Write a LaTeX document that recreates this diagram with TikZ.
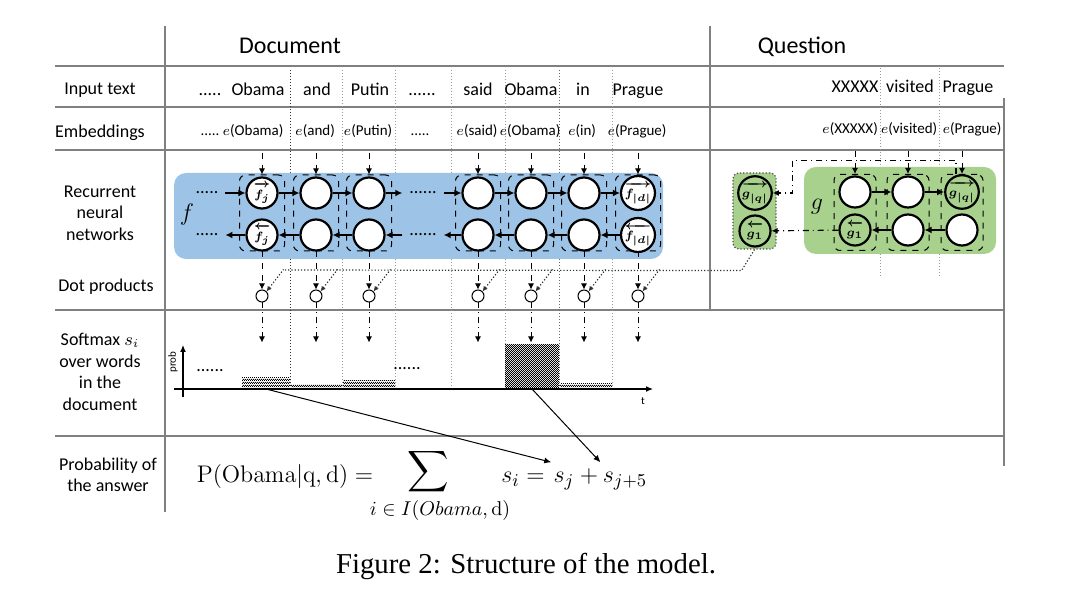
\documentclass[tikz,border=0pt]{standalone}
\usepackage{amsmath}
\usepackage[no-math]{fontspec}
\setmainfont{Carlito}
\newfontfamily\capfont{Liberation Serif}
\usepackage{tikz}
\usetikzlibrary{arrows.meta}
\usetikzlibrary{calc}
\usetikzlibrary{patterns.meta}

\definecolor{fblue}{HTML}{9DC3E6}
\definecolor{ggreen}{HTML}{A9D18E}

\tikzdeclarepattern{
  name=finecheck,
  bounding box={(0pt,0pt) and (1.2pt,1.2pt)},
  tile size={(1.2pt,1.2pt)},
  code={\fill (0pt,0pt) rectangle (0.6pt,0.6pt); \fill (0.6pt,0.6pt) rectangle (1.2pt,1.2pt);}
}

\newcommand{\fwd}[1]{$\overrightarrow{\rule{0pt}{0.8em}#1}$}
\newcommand{\bwd}[1]{$\overleftarrow{\rule{0pt}{0.8em}#1}$}

\begin{document}
\begin{tikzpicture}[x=0.5pt, y=-0.5pt, font=\fontsize{9}{10.8}\selectfont,
        grid_style/.style={draw=black!50, line width=0.75pt},
        sep_style/.style={draw=black!40, densely dotted, line width=0.5pt},
        head_style/.style={font=\fontsize{12}{14}\selectfont},
        row_label/.style={align=center, font=\fontsize{9}{10.8}\selectfont},
        word_style/.style={text height=1.5ex, text depth=0.25ex},
        emb_style/.style={font=\fontsize{7.5}{9}\selectfont, text height=1.6ex, text depth=0.4ex},
        cell_style/.style={circle, draw=black, line width=1.1pt, fill=white, minimum size=15.5pt, inner sep=0pt, font=\fontsize{6.5}{7}\selectfont\boldmath},
        open_cell_style/.style={cell_style, fill=none},
        pair_style/.style={draw=black, dashed, line width=0.5pt, rounded corners=3pt, minimum width=22.5pt, minimum height=38pt, inner sep=0pt},
        dot_style/.style={circle, draw=black, line width=0.5pt, fill=white, minimum size=6pt, inner sep=0pt,
          path picture={\fill (path picture bounding box.center) circle (0.45pt);}},
        edge_style/.style={draw=black, line width=1.1pt, -{Latex[length=3.5pt,width=3.5pt]}},
        emb_edge_style/.style={draw=black, dashed, line width=0.5pt, shorten <=3pt, -{Latex[length=3pt,width=3pt]}},
        prob_edge_style/.style={draw=black, dash dot, line width=0.5pt, -{Latex[length=3pt,width=3pt]}},
        bcast_style/.style={draw=black!80, densely dotted, line width=0.6pt},
        bcast_arrow_style/.style={bcast_style, {Latex[length=2.5pt,width=2.5pt]}-},
        gdd_style/.style={draw=black, dash dot, line width=0.6pt, -{Latex[length=3pt,width=3pt]}},
        axis_style/.style={draw=black, line width=0.6pt, -{Latex[length=3.5pt,width=3pt]}},
        bar_style/.style={fill=white, pattern=finecheck, pattern color=black, inner sep=0pt, outer sep=0pt, anchor=south west},
        tiny_label/.style={font=\fontsize{5.5}{6}\selectfont, inner sep=1pt},
        formula_style/.style={font=\fontsize{12.5}{15}\selectfont, anchor=base, inner sep=1pt},
        sum_edge_style/.style={draw=black, line width=0.5pt, -{Latex[length=3.5pt,width=3pt]}}]

        \useasboundingbox (0,0) rectangle (1077,598);

        % table lines
        \draw [grid_style] (55,66) -- (1004,66);
        \draw [grid_style] (55,107) -- (1004,107);
        \draw [grid_style] (55,150) -- (1004,150);
        \draw [grid_style] (55,310) -- (1004,310);
        \draw [grid_style] (55,436) -- (1004,436);
        \draw [grid_style] (165,26) -- (165,512);
        \draw [grid_style] (710,26) -- (710,310);
        \draw [grid_style] (1004,98) -- (1004,466);

        % word separators
        \draw [sep_style, draw=black!80] (290,70) -- (290,389);
        \draw [sep_style] (342,70) -- (342,389);
        \draw [sep_style] (395,70) -- (395,389);
        \draw [sep_style] (451,70) -- (451,389);
        \draw [sep_style] (505,70) -- (505,389);
        \draw [sep_style, draw=black!60] (559,70) -- (559,389);
        \draw [sep_style] (612,70) -- (612,389);
        \draw [sep_style] (880,68) -- (880,277);
        \draw [sep_style] (939,68) -- (939,277);

        % headers and row labels
        \node [head_style] (doc_head) at (290,46) {Document};
        \node [head_style] (q_head) at (802,47) {Question};

        \node [row_label] (lab_input) at (100,90) {Input text};
        \node [row_label] (lab_emb) at (100,133) {Embeddings};
        \node [row_label] (lab_rnn) at (100,213) {Recurrent\\neural\\networks};
        \node [row_label] (lab_dot) at (106,287) {Dot products};
        \node [row_label] (lab_soft) at (100,372) {Softmax $s_i$\\over words\\in the\\document};
        \node [row_label] (lab_prob) at (108,475) {Probability of\\the answer};

        % input words
        \node [word_style] (w0) at (210,90) {.....};
        \node [word_style] (w1) at (258,90) {Obama};
        \node [word_style] (w2) at (317,90) {and};
        \node [word_style] (w3) at (370,90) {Putin};
        \node [word_style] (wd) at (422,90) {......};
        \node [word_style] (w4) at (478,90) {said};
        \node [word_style] (w5) at (531,90) {Obama};
        \node [word_style] (w6) at (583,90) {in};
        \node [word_style] (w7) at (638,90) {Prague};
        \node [word_style] (qw1) at (855,87) {XXXXX};
        \node [word_style] (qw2) at (910,87) {visited};
        \node [word_style] (qw3) at (968,87) {Prague};

        % embeddings
        \node [emb_style] (e0) at (210,130) {.....};
        \node [emb_style] (e1) at (253,130) {$e$(Obama)};
        \node [emb_style] (e2) at (315,130) {$e$(and)};
        \node [emb_style] (e3) at (368,130) {$e$(Putin)};
        \node [emb_style] (ed) at (420,130) {.....};
        \node [emb_style] (e4) at (477,130) {$e$(said)};
        \node [emb_style] (e5) at (530,130) {$e$(Obama)};
        \node [emb_style] (e6) at (582,130) {$e$(in)};
        \node [emb_style] (e7) at (637,130) {$e$(Prague)};
        \node [emb_style] (qe1) at (850,128) {$e$(XXXXX)};
        \node [emb_style] (qe2) at (909,128) {$e$(visited)};
        \node [emb_style] (qe3) at (972,128) {$e$(Prague)};

        % network backgrounds
        \fill [fblue, rounded corners=6pt] (174,173) rectangle (663,259);
        \fill [ggreen, rounded corners=6pt] (804,167) rectangle (996,254);
        \node [fill=ggreen, draw=black!70, densely dotted, line width=0.6pt, rounded corners=3pt,
               minimum width=21.5pt, minimum height=38pt, inner sep=0pt] (gbox) at (754.5,211) {};
        \node [font=\fontsize{13}{15}\selectfont] (f_lab) at (187,215) {$f$};
        \node [font=\fontsize{13}{15}\selectfont] (g_lab) at (817,207) {$g$};

        % pair boxes
        \node [pair_style] (p1) at (262,213) {};
        \node [pair_style] (p2) at (316,213) {};
        \node [pair_style] (p3) at (369,213) {};
        \node [pair_style] (p4) at (478,213) {};
        \node [pair_style] (p5) at (531,213) {};
        \node [pair_style] (p6) at (584,213) {};
        \node [pair_style] (p7) at (638,213) {};
        \node [pair_style, minimum width=21pt] (qp1) at (855,212.5) {};
        \node [pair_style, minimum width=21pt] (qp2) at (908,212.5) {};
        \node [pair_style, minimum width=21pt] (qp3) at (962,212.5) {};

        % document cells
        \node [cell_style] (t1) at (262,193) {\fwd{f_j}};
        \node [cell_style] (t2) at (316,193) {};
        \node [cell_style] (t3) at (369,193) {};
        \node [cell_style] (t4) at (478,193) {};
        \node [cell_style] (t5) at (531,193) {};
        \node [cell_style] (t6) at (584,193) {};
        \node [cell_style] (t7) at (638,193) {\fwd{f_{|d|}}};
        \node [cell_style] (b1) at (262,235) {\bwd{f_j}};
        \node [cell_style] (b2) at (316,235) {};
        \node [cell_style] (b3) at (369,235) {};
        \node [cell_style] (b4) at (478,235) {};
        \node [cell_style] (b5) at (531,235) {};
        \node [cell_style] (b6) at (584,235) {};
        \node [cell_style] (b7) at (638,235) {\bwd{f_{|d|}}};
        \node (dl1) at (207,193) {.....};
        \node (dl2) at (207,235) {.....};
        \node (dm1) at (423,193) {......};
        \node (dm2) at (423,235) {......};

        % question cells
        \node [cell_style] (qt1) at (855,192) {};
        \node [cell_style] (qt2) at (908,192) {};
        \node [open_cell_style] (qt3) at (962,192) {\fwd{g_{|q|}}};
        \node [open_cell_style] (qb1) at (855,230) {\bwd{g_1}};
        \node [cell_style] (qb2) at (908,230) {};
        \node [cell_style] (qb3) at (962,230) {};
        \node [open_cell_style] (gq) at (755,193) {\fwd{g_{|q|}}};
        \node [open_cell_style] (g1) at (755,231) {\bwd{g_1}};

        % recurrent edges
        \draw [edge_style] (dl1) -- (t1);
        \draw [edge_style] (t1) -- (t2);
        \draw [edge_style] (t2) -- (t3);
        \draw [edge_style] (t3) -- (dm1);
        \draw [edge_style] (dm1) -- (t4);
        \draw [edge_style] (t4) -- (t5);
        \draw [edge_style] (t5) -- (t6);
        \draw [edge_style] (t6) -- (t7);
        \draw [edge_style] (b7) -- (b6);
        \draw [edge_style] (b6) -- (b5);
        \draw [edge_style] (b5) -- (b4);
        \draw [edge_style] (b4) -- (dm2);
        \draw [edge_style] (dm2) -- (b3);
        \draw [edge_style] (b3) -- (b2);
        \draw [edge_style] (b2) -- (b1);
        \draw [edge_style] (b1) -- (dl2);
        \draw [edge_style] (qt1) -- (qt2);
        \draw [edge_style] (qt2) -- (qt3);
        \draw [edge_style] (qb3) -- (qb2);
        \draw [edge_style] (qb2) -- (qb1);

        % question encoding
        \draw [gdd_style] ([xshift=-3pt]qt3.north) -- ++(0,-14) -| ($(gq.east)+(20,0)$) -- (gq.east);
        \draw [gdd_style] (qb1) -- (g1);

        % embeddings into cells
        \draw [emb_edge_style] (e1.south -| p1.north) -- (p1.north);
        \draw [emb_edge_style] (e2.south -| p2.north) -- (p2.north);
        \draw [emb_edge_style] (e3.south -| p3.north) -- (p3.north);
        \draw [emb_edge_style] (e4.south -| p4.north) -- (p4.north);
        \draw [emb_edge_style] (e5.south -| p5.north) -- (p5.north);
        \draw [emb_edge_style] (e6.south -| p6.north) -- (p6.north);
        \draw [emb_edge_style] (e7.south -| p7.north) -- (p7.north);
        \draw [emb_edge_style] (qe1.south -| qp1.north) -- (qp1.north);
        \draw [emb_edge_style] (qe2.south -| qp2.north) -- (qp2.north);
        \draw [emb_edge_style] (qe3.south -| qp3.north) -- (qp3.north);

        % dot products
        \node [dot_style] (d1) at (262,296) {};
        \node [dot_style] (d2) at (316,296) {};
        \node [dot_style] (d3) at (369,296) {};
        \node [dot_style] (d4) at (478,296) {};
        \node [dot_style] (d5) at (531,296) {};
        \node [dot_style] (d6) at (584,296) {};
        \node [dot_style] (d7) at (638,296) {};

        \draw [emb_edge_style, shorten <=0pt] (p1.south) -- (d1.north);
        \draw [emb_edge_style, shorten <=0pt] (p2.south) -- (d2.north);
        \draw [emb_edge_style, shorten <=0pt] (p3.south) -- (d3.north);
        \draw [emb_edge_style, shorten <=0pt] (p4.south) -- (d4.north);
        \draw [emb_edge_style, shorten <=0pt] (p5.south) -- (d5.north);
        \draw [emb_edge_style, shorten <=0pt] (p6.south) -- (d6.north);
        \draw [emb_edge_style, shorten <=0pt] (p7.south) -- (d7.north);

        \coordinate (bc) at (283,270);
        \draw [bcast_style] (gbox.south) -- ++(-13,21) -- (bc);
        \draw [bcast_arrow_style] (d1.north east) -- ++(17,-22) coordinate (h1);
        \draw [bcast_arrow_style] (d2.north east) -- ++(17,-22) coordinate (h2);
        \draw [bcast_arrow_style] (d3.north east) -- ++(17,-22) coordinate (h3);
        \draw [bcast_arrow_style] (d4.north east) -- ++(17,-22) coordinate (h4);
        \draw [bcast_arrow_style] (d5.north east) -- ++(17,-22) coordinate (h5);
        \draw [bcast_arrow_style] (d6.north east) -- ++(17,-22) coordinate (h6);
        \draw [bcast_arrow_style] (d7.north east) -- ++(17,-22) coordinate (h7);

        \draw [prob_edge_style] (d1.south) -- ++(0,40) coordinate (s1);
        \draw [prob_edge_style] (d2.south) -- ++(0,40) coordinate (s2);
        \draw [prob_edge_style] (d3.south) -- ++(0,40) coordinate (s3);
        \draw [prob_edge_style] (d4.south) -- ++(0,40) coordinate (s4);
        \draw [prob_edge_style] (d5.south) -- ++(0,40) coordinate (s5);
        \draw [prob_edge_style] (d6.south) -- ++(0,40) coordinate (s6);
        \draw [prob_edge_style] (d7.south) -- ++(0,40) coordinate (s7);

        % softmax chart
        \node [bar_style, minimum width=24pt, minimum height=5.5pt] (bar1) at (242,389) {};
        \node [bar_style, minimum width=25.5pt, minimum height=2pt] (bar2) at (291,389) {};
        \node [bar_style, minimum width=26pt, minimum height=4pt] (bar3) at (343,389) {};
        \node [bar_style, minimum width=27pt, minimum height=22pt] (bar4) at (505,389) {};
        \node [bar_style, minimum width=26pt, minimum height=2.5pt] (bar5) at (560,389) {};
        \draw [axis_style] (183,397) -- (183,345);
        \draw [axis_style] (174,389) -- (653,389);
        \node [tiny_label, rotate=90] (prob_lab) at (173,362) {prob};
        \node [tiny_label] (t_lab) at (643,401) {t};
        \node [word_style] (cd1) at (210,366) {......};
        \node [word_style] (cd2) at (407,364) {......};

        % answer probability
        \node [formula_style, font=\fontsize{11.5}{14}\selectfont] (plhs) at (285,483) {$\mathrm{P(Obama}|\mathrm{q,d)} =$};
        \node [font=\fontsize{14}{16}\selectfont] (sum) at (428,472) {$\displaystyle\sum$};
        \node [font=\fontsize{10}{12}\selectfont] (sub) at (440,511) {$i\in I(Obama,\mathrm{d})$};
        \node [formula_style] (si) at (523,483) {$s_i =$};
        \node [formula_style] (sj) at (564,483) {$s_j$};
        \node [formula_style] (plus) at (589,483) {$+$};
        \node [formula_style] (sj5) at (625,483) {$s_{j+5}$};
        \draw [sum_edge_style] (bar1.south) -- ([yshift=4pt]sj.north west);
        \draw [sum_edge_style] (bar4.south) -- ([yshift=4pt]sj5.north west);

        \node [font=\capfont\fontsize{14.4}{17}\selectfont] (caption) at (526,566) {Figure 2: Structure of the model.};

        \end{tikzpicture}
\end{document}
